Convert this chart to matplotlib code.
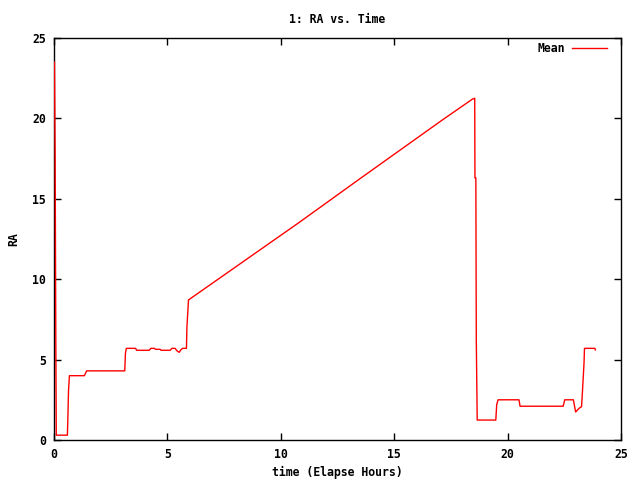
import matplotlib.pyplot as plt

# elapsed hours and mean RA
hours = [0.02, 0.02, 0.05, 0.05, 0.08, 0.08, 0.1, 0.59, 0.61, 0.64, 0.68, 1.34, 1.44,
         3.12, 3.15, 3.19, 3.6, 3.64, 4.2, 4.27, 4.43, 4.47, 4.68, 4.72, 5.12, 5.2,
         5.34, 5.42, 5.52, 5.6, 5.67, 5.84, 5.86, 5.93,
         10.79, 13.47, 17.12, 18.45, 18.55, 18.56, 18.6, 18.62, 18.66,
         19.48, 19.52, 19.58, 20.5, 20.55, 22.45, 22.52, 22.9, 23.0, 23.15, 23.26,
         23.3, 23.37, 23.39, 23.85, 23.87]
ra = [23.5, 23.5, 17.7, 17.7, 6.1, 6.1, 0.3, 0.3, 1.24, 3.07, 4.0, 4.0, 4.3,
      4.3, 5.4, 5.7, 5.7, 5.58, 5.58, 5.7, 5.7, 5.64, 5.64, 5.58, 5.58, 5.7,
      5.7, 5.55, 5.45, 5.62, 5.7, 5.7, 7.0, 8.71,
      13.51, 16.23, 19.9, 21.2, 21.25, 16.3, 16.3, 6.2, 1.24,
      1.24, 2.2, 2.5, 2.5, 2.1, 2.1, 2.5, 2.5, 1.74, 1.97, 2.07,
      3.0, 4.8, 5.7, 5.7, 5.6]

x_ticks = [0, 5, 10, 15, 20, 25]
y_ticks = [0, 5, 10, 15, 20, 25]

plt.rcParams['font.family'] = ['DejaVu Sans Mono']
plt.rcParams['font.weight'] = 'bold'
fs = 8.3

fig = plt.figure(figsize=(6.4, 4.8), dpi=100)
ax = fig.add_axes([54 / 640, 40 / 480, 567 / 640, 402 / 480])

ax.plot(hours, ra, color='red', lw=1, label='Mean', zorder=3)
ax.set_xlim(0, 25)
ax.set_ylim(0, 25)
ax.set_xticks(x_ticks)
ax.set_yticks(y_ticks)
ax.tick_params(direction='in', length=5, top=True, right=True, width=1, pad=6,
               labelsize=fs)
for s in ax.spines.values():
    s.set_linewidth(1)

ax.set_title('1: RA vs. Time', fontsize=fs, fontweight='bold', pad=11)
ax.set_xlabel('time (Elapse Hours)', fontsize=fs, fontweight='bold')
ax.xaxis.set_label_coords(0.5, -0.065)
ax.set_ylabel('RA', fontsize=fs, fontweight='bold')
ax.yaxis.set_label_coords(-0.06, 0.5)

leg = ax.legend(loc='upper right', bbox_to_anchor=(0.975, 0.99), frameon=False,
                markerfirst=False, handlelength=3.0, borderaxespad=0, borderpad=0,
                handletextpad=0.6, fontsize=fs)

fig.savefig('out.png', dpi=100)
